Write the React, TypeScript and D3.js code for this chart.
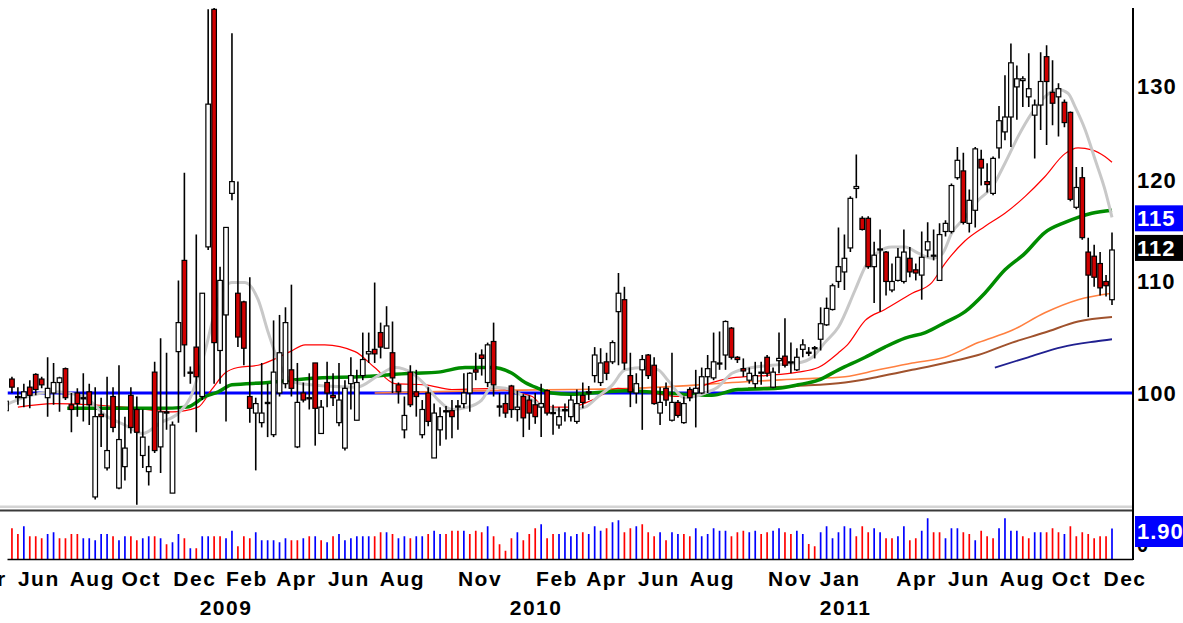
import React from 'react';
import * as d3 from 'd3';

// Weekly OHLC (first week ~ 2008-05-18)
const open = [
  98.5,101.2,99.7,99.6,100.5,101.6,101.2,99.6,100.0,100.9,
  102.1,99.0,100.0,99.6,100.1,91.5,98.2,93.8,99.7,92.2,
  93.9,99.8,98.6,94.8,93.5,101.8,95.5,98.4,91.8,103.6,
  112.0,101.8,104.0,99.7,113.3,138.8,103.7,106.9,118.6,108.9,
  108.1,99.7,98.3,97.5,99.2,96.5,100.0,100.8,102.0,95.5,
  100.0,99.6,102.6,96.6,100.9,99.8,97.5,95.4,100.8,97.7,
  101.5,103.4,103.8,105.3,103.9,103.5,100.7,96.9,101.8,100.1,
  96.5,100.0,94.6,96.9,98.5,98.5,98.8,99.1,100.0,102.0,
  103.3,100.9,104.5,98.9,99.1,100.6,98.6,99.7,99.4,99.0,
  98.8,100.2,98.35,97.3,98.5,98.0,97.6,99.8,100.0,101.5,
  100.9,102.7,102.7,107.2,108.3,101.5,100.0,102.0,103.3,102.4,
  98.3,100.4,97.7,99.2,97.5,100.3,100.0,100.0,101.4,101.3,
  102.5,103.3,105.7,103.1,102.1,101.1,100.8,101.7,103.1,100.5,
  102.8,103.2,102.6,102.0,103.8,103.55,103.85,104.7,106.0,107.4,
  110.0,110.9,113.2,119.1,116.1,116.1,111.4,113.0,112.8,109.2,
  110.1,110.0,112.2,111.1,110.6,113.0,112.4,110.1,114.8,114.8,
  120.2,120.9,115.6,116.9,122.1,119.8,118.6,123.3,125.0,126.6,
  129.9,130.6,128.8,126.8,127.9,133.3,129.3,128.8,128.2,127.1,
  117.2,120.2,112.8,112.4,111.7,110.0,108.3,
];
const high = [
  99.8,101.4,100.5,100.8,101.1,101.7,101.4,103.1,102.6,101.4,
  102.2,100.0,100.4,101.7,100.8,100.5,99.6,101.4,100.5,102.4,
  98.0,100.5,99.7,98.6,95.6,102.7,104.8,103.5,97.6,110.1,
  120.7,102.3,114.5,108.9,138.8,140.0,111.4,115.2,136.0,119.8,
  108.2,110.4,99.6,102.6,100.8,106.4,106.9,107.6,109.7,102.6,
  100.9,101.7,102.6,99.4,102.7,101.7,102.6,101.1,103.1,102.0,
  105.3,105.3,109.9,106.2,107.7,106.3,100.9,99.7,102.4,102.0,
  99.4,100.5,99.1,98.8,98.9,99.4,99.4,101.7,101.8,103.5,
  103.8,104.4,106.2,100.0,99.9,100.7,100.2,99.9,99.8,100.0,
  100.8,100.3,99.0,98.8,99.1,99.8,100.3,100.9,100.6,104.0,
  103.9,103.5,104.6,110.8,109.5,103.5,101.7,103.3,103.4,103.1,
  100.5,100.9,103.5,99.4,99.7,100.5,102.0,102.2,103.3,105.3,
  105.4,106.4,105.8,103.2,103.0,102.2,102.7,102.7,103.3,102.2,
  105.3,106.6,104.4,103.9,104.7,104.0,104.1,107.6,108.5,109.8,
  115.2,114.5,118.3,122.6,116.3,116.3,113.8,115.0,112.9,111.7,
  113.2,115.0,113.3,111.7,114.8,115.7,115.0,115.6,115.9,119.6,
  123.4,122.8,119.0,123.4,123.1,121.7,122.4,127.8,131.2,134.8,
  132.3,131.1,133.7,128.5,133.8,134.6,132.9,130.3,128.5,127.2,
  121.3,121.3,114.2,113.5,112.8,110.6,114.7,
];
const low = [
  98.2,100.0,99.0,98.8,98.7,99.8,100.4,98.0,99.0,98.4,
  99.4,96.7,98.0,97.6,97.3,91.3,95.5,93.6,96.7,92.1,
  92.8,96.6,90.9,93.8,92.4,95.0,93.4,96.9,91.8,97.5,
  101.4,100.8,96.7,99.4,113.0,100.8,100.8,97.6,117.9,104.0,
  102.4,97.5,93.6,97.1,96.3,96.3,99.7,100.4,99.7,95.4,
  99.2,98.6,95.6,96.6,98.8,98.9,97.2,95.2,98.6,97.7,
  101.1,102.6,102.6,103.0,103.9,100.0,99.1,96.2,98.8,98.0,
  96.2,97.2,94.6,95.6,96.1,96.2,96.9,98.7,98.4,101.1,
  101.5,100.5,99.7,98.0,97.9,97.9,97.6,96.3,96.9,97.4,
  96.3,98.1,96.5,97.0,97.6,97.6,97.4,98.7,99.4,100.9,
  100.6,101.1,102.5,102.4,102.0,98.8,99.1,96.9,101.2,99.0,
  97.3,98.9,97.6,97.9,97.4,99.3,97.1,99.9,100.0,101.1,
  102.0,102.0,102.9,102.6,101.4,100.8,100.4,100.7,101.4,100.4,
  101.7,102.2,101.7,101.9,103.1,103.2,103.0,103.7,105.9,107.3,
  109.4,109.2,112.8,118.1,114.9,111.2,108.0,107.2,108.7,109.0,
  110.0,109.8,110.4,110.1,108.3,112.3,112.0,110.1,114.3,114.6,
  120.0,115.5,114.7,115.2,119.4,118.7,118.4,122.2,124.1,123.4,
  126.3,127.7,127.7,122.2,125.2,123.6,125.7,124.5,125.5,117.8,
  117.0,114.0,106.7,109.5,108.7,108.6,107.8,
];
const close = [
  99.3,100.5,99.6,100.1,99.8,100.3,100.7,100.4,100.9,101.3,
  99.6,98.6,99.1,99.5,99.0,98.0,98.0,95.2,97.1,96.1,
  95.4,97.1,96.7,96.3,93.9,95.2,98.4,98.3,97.3,106.2,
  104.2,101.7,101.4,108.9,128.0,104.4,110.1,115.2,119.8,104.9,
  103.9,98.7,99.1,98.3,99.1,101.8,103.5,106.2,100.4,99.2,
  99.4,99.5,98.7,98.8,100.0,99.6,99.4,100.4,101.5,100.9,
  102.9,103.6,103.4,104.0,105.9,101.3,100.1,98.1,99.0,99.7,
  98.6,97.6,98.3,98.0,98.4,98.0,98.9,100.0,101.7,101.8,
  103.0,104.2,100.7,98.8,98.3,98.6,98.8,97.9,98.3,98.0,
  99.1,98.3,98.25,98.0,98.6,99.4,99.1,99.2,100.1,103.3,
  102.6,101.7,104.4,108.9,102.6,100.1,100.8,102.9,101.5,99.1,
  99.2,99.4,99.2,98.1,99.1,99.6,100.4,101.4,102.1,102.7,
  102.6,106.3,103.1,102.9,101.9,101.7,101.5,101.8,101.7,101.8,
  103.0,102.4,102.7,103.1,104.2,103.45,103.95,106.1,107.5,109.6,
  111.4,112.2,118.1,119.3,115.0,111.4,112.5,113.1,110.0,110.0,
  112.3,112.8,110.9,110.8,112.3,113.8,112.5,114.5,115.6,119.4,
  122.0,115.7,117.9,123.2,121.2,119.5,122.2,126.2,126.6,132.6,
  130.8,130.8,129.7,127.9,130.5,130.5,128.1,129.7,126.0,118.0,
  119.2,114.2,110.6,110.4,109.4,109.6,113.0,
];

// Weekly volume (millions) and bar colour (r / b)
const volume = [
  1.42,
  1.92,1.56,2.04,1.42,1.42,1.29,1.56,1.67,1.29,1.29,
  1.56,1.56,1.29,1.29,1.17,1.56,1.56,1.42,1.17,1.42,
  1.42,1.17,1.29,1.42,1.42,1.29,0.92,1.04,1.56,1.29,
  0.67,0.67,1.42,1.42,1.42,1.42,1.29,1.77,0.79,1.42,
  1.29,1.67,1.17,1.17,1.17,1.04,1.29,1.17,1.17,1.29,
  1.42,1.42,1.17,1.04,1.42,1.56,1.17,1.29,1.42,1.42,
  1.42,1.42,1.67,1.67,1.56,1.29,
  1.42,1.29,1.42,1.42,1.56,1.77,1.56,1.56,1.77,1.77,
  1.77,1.56,1.77,1.67,2.04,1.42,0.92,0.52,1.29,1.67,
  1.17,1.56,1.92,2.17,1.29,1.56,1.56,1.67,1.42,1.56,
  1.67,1.56,2.04,1.77,1.92,2.29,2.42,1.67,1.92,2.04,
  2.17,1.67,1.42,1.67,1.17,1.67,1.56,1.56,1.42,1.92,
  1.42,1.56,1.92,1.77,1.77,1.42,1.67,1.77,1.67,1.77,
  1.56,1.67,1.77,1.92,1.67,1.56,1.77,
  1.56,0.94,0.79,1.67,2.04,1.29,1.67,2.04,1.92,1.42,
  2.04,1.67,1.92,1.67,1.29,1.29,1.42,2.04,1.17,1.29,
  1.77,2.54,1.67,1.67,1.29,1.92,1.92,1.67,1.56,1.17,
  1.77,1.42,1.29,1.92,2.54,1.77,1.77,1.42,1.29,1.67,
  1.67,1.67,1.92,1.67,1.56,2.04,1.42,1.67,1.56,1.29,
  1.42,1.42,1.90,
];
const volColor = (
  'b' +
  'rrbrrrbbrr' + 'rrbbbbbrbb' + 'rrbbrbrbbr' + 'brbbrrbbrr' + 'rbbbbbbrrb' + 'rbrbrbbbbb' + 'brrbrb' +
  'brbbrbbrrr' + 'brrrbrrrrb' + 'rrrbrrbbbb' + 'rbbbrbbrrb' + 'rrrbrbbrrb' + 'bbbbbrrrbb' + 'rrbbrrb' +
  'brrbbbbbbr' + 'rrbbrrbbrr' + 'bbrrbbbrrb' + 'rrrbbbbrrb' + 'brrrbrrrrr' + 'rrb'
).split('');

// Moving averages: [week index, value]
const maGray = [
  [0,99.0],[3,99.6],[8,100.1],[13,99.7],[17,98.0],[20,97.3],[23,96.6],[26,97.5],[29,98.3],[31,99.6],
  [33.5,103.7],[35.7,108.3],[38,109.9],[40.2,109.9],[42.4,108.3],[44.1,105.3],[46,102.5],[48.6,100.9],
  [54,100.6],[59,100.5],[62.6,101.5],[65.4,102.2],[68.3,101.7],[70.5,100.7],[72.7,99.4],[75,98.6],
  [77.7,98.8],[80,99.4],[81.7,100.5],[84,100.4],[86,100.0],[88.5,99.4],[90.6,98.8],[94,98.5],[97.4,98.8],
  [99.6,99.7],[102,100.7],[104.1,102.0],[107.5,102.2],[109.7,102.0],[111.3,101.1],[114.2,99.6],
  [117.6,100.0],[119.7,100.5],[122.1,101.7],[125.5,102.2],[128.8,102.4],[133.2,102.6],[135.6,103.1],
  [137.7,104.4],[140,105.8],[142.8,109.2],[144.5,111.4],[146.7,112.8],[149,113.3],[151.2,113.3],
  [153.4,112.7],[155.7,112.2],[157.4,112.6],[159.1,114.7],[161.3,116.2],[163.5,117.9],[165.8,119.2],
  [168,121.7],[170.2,124.5],[172.6,127.1],[174.7,128.8],[176.9,129.6],[178.6,129.2],[179.8,127.7],
  [181.5,125.2],[183.2,122.0],[184.8,119.0],[186,116.2],
];
const maRed = [
  [2,98.8],[8,99.1],[14.5,99.0],[22,98.7],[28,98.4],[32.3,98.8],[34.6,100.3],[36.8,101.7],[39,102.2],
  [42.4,102.4],[47.8,103.6],[50.3,104.2],[53.6,104.2],[58.7,103.6],[62,102.2],[65.4,100.8],[70.5,100.7],
  [75,100.3],[82.7,100.4],[86.1,100.0],[88.5,99.7],[90.6,98.8],[94.9,98.8],[98.6,99.4],[102.9,100.4],
  [108.6,100.0],[113,99.7],[117.6,100.7],[122.1,101.3],[127.7,101.5],[133.2,101.8],[136.6,102.2],
  [140,103.5],[141.5,104.2],[144.5,106.4],[147.8,107.4],[152.4,108.9],[155.7,109.9],[157.9,111.7],
  [161.3,113.9],[164.6,115.3],[168,116.6],[171.4,118.3],[174.7,120.3],[178.1,122.7],[180.3,123.3],
  [182.6,123.1],[184.8,122.4],[186,121.8],
];
const maGreen = [
  [10.3,98.7],[18.3,98.7],[25.6,98.7],[30.4,98.8],[33.5,99.7],[35.7,100.1],[38,100.7],[44.1,100.9],
  [47.8,101.1],[52.5,101.3],[59.2,101.4],[68.3,101.7],[72.7,101.8],[77.2,102.2],[81.7,102.2],[85.1,101.7],
  [87.3,100.9],[89.5,100.4],[91.8,100.0],[94.9,99.9],[104.1,100.2],[110.8,100.0],[118.7,99.8],
  [123.1,100.3],[129.8,100.4],[133.2,100.7],[136.6,101.1],[140,102.0],[144.5,103.1],[147.8,104.0],
  [151.2,104.8],[154.6,105.3],[157.9,106.2],[161.3,107.2],[164.6,108.9],[168,111.1],[171.4,112.7],
  [174.7,114.7],[178.1,115.7],[180.3,116.2],[182.6,116.6],[186,116.9],
];
const maOrange = [
  [62,100.0],[80.6,100.2],[94.9,100.3],[105.3,100.4],[116.4,100.7],[122.1,100.9],[133.2,101.2],
  [141.1,101.4],[146.7,102.0],[152.4,102.6],[157.9,103.1],[163.5,104.4],[169.2,105.5],[174.7,107.1],
  [180.3,108.3],[186,108.9],
];
const maBrown = [
  [124.8,100.4],[133,100.6],[141.1,100.9],[146.7,101.4],[152.4,102.0],[157.9,102.6],[163.5,103.3],
  [169.2,104.4],[174.7,105.3],[180.3,106.3],[186,106.7],
];
const maNavy = [
  [166.3,102.2],[171.9,103.1],[177.6,104.0],[183.2,104.5],[186,104.7],
];

const priceTicks = [100, 110, 120, 130];
const monthLabels = [
  ['2008-04-01','Apr'],['2008-06-01','Jun'],['2008-08-01','Aug'],['2008-10-01','Oct'],['2008-12-01','Dec'],
  ['2009-02-01','Feb'],['2009-04-01','Apr'],['2009-06-01','Jun'],['2009-08-01','Aug'],['2009-11-01','Nov'],
  ['2010-02-01','Feb'],['2010-04-01','Apr'],['2010-06-01','Jun'],['2010-08-01','Aug'],['2010-11-01','Nov'],
  ['2011-01-01','Jan'],['2011-04-01','Apr'],['2011-06-01','Jun'],['2011-08-01','Aug'],['2011-10-01','Oct'],
  ['2011-12-01','Dec'],
];
const yearLabels = [['2009-01-01','2009'],['2010-01-01','2010'],['2011-01-01','2011']];
const markers = [
  { text: '115', at: 116.1, bg: '#0000ff' },
  { text: '112', at: 113.2, bg: '#000000' },
];
const volumeMarker = '1.90';

const FONT = "'Liberation Sans', Arial, sans-serif";

export default function App() {
  const W = 1183, H = 623;
  const n = open.length;
  const left = 7.5, right = 1133, top = 8, priceBottom = 505;
  const volBase = 559;
  const xI = d3.scaleLinear().domain([0, n - 1]).range([6, 1112]);
  const t0 = new Date(2008, 4, 18);
  const t1 = d3.timeDay.offset(t0, 7 * (n - 1));
  const xT = d3.scaleTime().domain([t0, t1]).range([6, 1112]);
  const y = d3.scaleLog().domain([100, 130]).range([393, 86]);
  const yV = d3.scaleLinear().domain([0, 2.6]).range([volBase, volBase - 41.6]);
  const parse = d3.timeParse('%Y-%m-%d');

  const line = d3.line<number[]>()
    .x(d => xI(d[0]))
    .y(d => y(d[1]))
    .curve(d3.curveMonotoneX);

  const bw = 4.6;

  return (
    <svg width={W} height={H} style={{ position: 'absolute', left: 0, top: 0, background: '#fff' }}
      fontFamily={FONT}>
      <defs>
        <clipPath id="pc"><rect x={left} y={top} width={right - left - 1} height={priceBottom - top} /></clipPath>
        <clipPath id="vc"><rect x={left} y={512} width={right - left - 1} height={volBase - 512} /></clipPath>
      </defs>
      <rect x={0} y={0} width={W} height={H} fill="#ffffff" />

      <g clipPath="url(#pc)">
        <line x1={left} x2={right} y1={y(100)} y2={y(100)} stroke="#0000ff" strokeWidth={3} />
        <path d={line(maBrown) || ''} fill="none" stroke="#a0522d" strokeWidth={2} />
        <path d={line(maOrange) || ''} fill="none" stroke="#ff7f3f" strokeWidth={1.6} />
        <path d={line(maNavy) || ''} fill="none" stroke="#202090" strokeWidth={1.8} />
        <path d={line(maRed) || ''} fill="none" stroke="#ff0000" strokeWidth={1.2} />
        <path d={line(maGreen) || ''} fill="none" stroke="#008c00" strokeWidth={3.5} />
        <path d={line(maGray) || ''} fill="none" stroke="#c8c8c8" strokeWidth={3} />
        {open.map((o, i) => {
          const c = close[i];
          const cx = xI(i);
          const yt = y(Math.max(o, c));
          const yb = y(Math.min(o, c));
          const up = c >= o;
          return (
            <g key={i}>
              <line x1={cx} x2={cx} y1={y(high[i])} y2={y(low[i])} stroke="#000" strokeWidth={1.6} />
              <rect x={cx - bw / 2} y={yt} width={bw} height={Math.max(1, yb - yt)}
                fill={up ? '#ffffff' : '#d00000'} stroke="#000" strokeWidth={1.2} />
            </g>
          );
        })}
      </g>

      {/* panel separator */}
      <rect x={0} y={505.5} width={right} height={2.5} fill="#d4d4d4" />
      <line x1={0} x2={right} y1={510.5} y2={510.5} stroke="#3a3a3a" strokeWidth={2.2} />

      <g clipPath="url(#vc)">
        {volume.map((v, i) => (
          <line key={i} x1={xI(i)} x2={xI(i)} y1={volBase} y2={yV(v)}
            stroke={volColor[i] === 'r' ? '#ff0000' : '#0000ff'} strokeWidth={1.7} />
        ))}
      </g>
      <line x1={left} x2={right} y1={volBase + 0.5} y2={volBase + 0.5} stroke="#000" strokeWidth={1.5} />
      <line x1={right} x2={right} y1={top} y2={volBase + 1} stroke="#000" strokeWidth={2} />

      {priceTicks.map(t => (
        <text key={t} x={1137} y={y(t)} dy="0.36em" fontSize={22} fontWeight="bold" letterSpacing={1}
          fill="#000">{t}</text>
      ))}
      {markers.map(m => (
        <g key={m.text}>
          <rect x={1135} y={y(m.at) - 13} width={48} height={26} fill={m.bg} />
          <text x={1137} y={y(m.at)} dy="0.36em" fontSize={22} fontWeight="bold" letterSpacing={1}
            fill="#fff">{m.text}</text>
        </g>
      ))}
      {/* volume zero label, mostly hidden behind the value box */}
      <text x={1137} y={552} fontSize={20} fontWeight="bold" fill="#000">0</text>
      <rect x={1135} y={516} width={48} height={31} fill="#0000ff" />
      <text x={1137} y={531.5} dy="0.36em" fontSize={22} fontWeight="bold" letterSpacing={1}
        fill="#fff">{volumeMarker}</text>

      {monthLabels.map(([d, l]) => (
        <text key={d} x={xT(parse(d) as Date)} y={586} fontSize={21} fontWeight="bold" letterSpacing={1.5}
          fill="#000">{l}</text>
      ))}
      {yearLabels.map(([d, l]) => (
        <text key={d} x={xT(parse(d) as Date)} y={615} fontSize={21} fontWeight="bold" letterSpacing={1.5}
          fill="#000">{l}</text>
      ))}
    </svg>
  );
}
